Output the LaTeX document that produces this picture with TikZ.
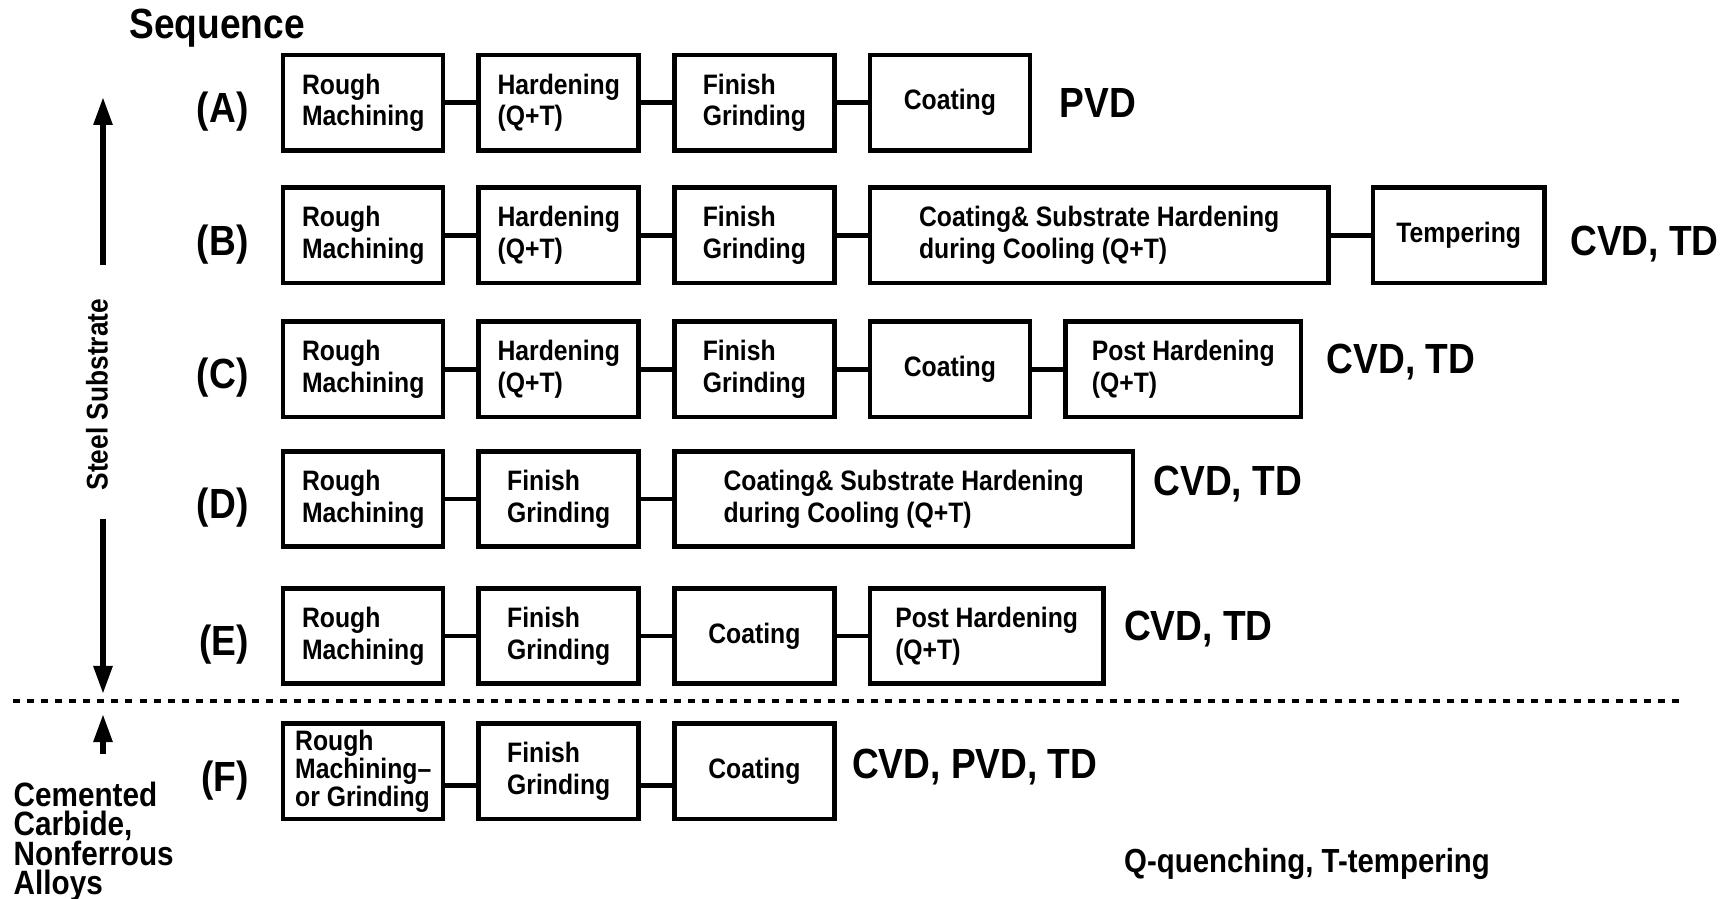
\documentclass[tikz,border=0pt]{standalone}
\usepackage{fontspec}
\setmainfont{Liberation Sans}[FakeStretch=0.88]
\usetikzlibrary{arrows.meta, positioning}
\newcommand\tightlines{\lineskiplimit=-5pt\lineskip=0pt\relax}

\begin{document}
\begin{tikzpicture}[node distance=0.31cm, >={Triangle[length=2.8mm, width=1.8mm]},
    stage/.style={draw, line width=1.3pt, minimum width=1.6cm, minimum height=0.955cm, inner sep=2pt, align=left, font=\fontsize{8}{9}\selectfont\bfseries},
    rowtag/.style={font=\fontsize{12}{14}\selectfont\bfseries, yshift=-0.09cm},
    method/.style={font=\fontsize{12}{14}\selectfont\bfseries},
    link/.style={line width=1.4pt},
    sidearrow/.style={->, line width=1.6pt}]
  \useasboundingbox (0,0) rectangle (17.33,8.98);

  \node[font=\fontsize{12}{14}\selectfont\bfseries] (seq) at (2.17,8.70) {Sequence};

  % (A)
  \node[stage] (a1) at (3.632,7.952) {Rough\\Machining};
  \node[stage, right=of a1] (a2) {Hardening\\(Q+T)};
  \node[stage, right=of a2] (a3) {Finish\\Grinding};
  \node[stage, right=of a3] (a4) {Coating};
  \node[method, right=0.15cm of a4] (am) {PVD};
  \node[rowtag, left=0.2cm of a1] (ta) {(A)};

  % (B)
  \node[stage] (b1) at (3.632,6.626) {Rough\\Machining};
  \node[stage, right=of b1] (b2) {Hardening\\(Q+T)};
  \node[stage, right=of b2] (b3) {Finish\\Grinding};
  \node[stage, right=of b3, minimum width=4.585cm] (b4) {Coating\& Substrate Hardening\\during Cooling (Q+T)};
  \node[stage, right=0.4cm of b4, minimum width=1.715cm] (b5) {Tempering};
  \node[method, right=0.11cm of b5, yshift=-0.09cm] (bm) {CVD, TD};
  \node[rowtag, left=0.2cm of b1] (tb) {(B)};

  % (C)
  \node[stage] (c1) at (3.632,5.289) {Rough\\Machining};
  \node[stage, right=of c1] (c2) {Hardening\\(Q+T)};
  \node[stage, right=of c2] (c3) {Finish\\Grinding};
  \node[stage, right=of c3] (c4) {Coating};
  \node[stage, right=of c4, minimum width=2.355cm] (c5) {Post Hardening\\(Q+T)};
  \node[method, right=0.11cm of c5, yshift=0.07cm] (cm) {CVD, TD};
  \node[rowtag, left=0.2cm of c1] (tc) {(C)};

  % (D)
  \node[stage] (d1) at (3.632,3.99) {Rough\\Machining};
  \node[stage, right=of d1] (d2) {Finish\\Grinding};
  \node[stage, right=of d2, minimum width=4.585cm] (d3) {Coating\& Substrate Hardening\\during Cooling (Q+T)};
  \node[method, right=0.06cm of d3, yshift=0.15cm] (dm) {CVD, TD};
  \node[rowtag, left=0.2cm of d1] (td) {(D)};

  % (E)
  \node[stage] (e1) at (3.632,2.62) {Rough\\Machining};
  \node[stage, right=of e1] (e2) {Finish\\Grinding};
  \node[stage, right=of e2] (e3) {Coating};
  \node[stage, right=of e3, minimum width=2.335cm] (e4) {Post Hardening\\(Q+T)};
  \node[method, right=0.06cm of e4, yshift=0.07cm] (em) {CVD, TD};
  \node[rowtag, left=0.2cm of e1] (te) {(E)};

  % (F)
  \node[stage, inner sep=1pt, font=\fontsize{8}{8}\selectfont\bfseries] (f1) at (3.632,1.266) {Rough\\Machining--\\or Grinding};
  \node[stage, right=of f1] (f2) {Finish\\Grinding};
  \node[stage, right=of f2] (f3) {Coating};
  \node[method, right=0.03cm of f3, yshift=0.04cm] (fm) {CVD, PVD, TD};
  \node[rowtag, left=0.2cm of f1] (tf) {(F)};

  \draw[link] (a1) -- (a2);
  \draw[link] (a2) -- (a3);
  \draw[link] (a3) -- (a4);
  \draw[link] (b1) -- (b2);
  \draw[link] (b2) -- (b3);
  \draw[link] (b3) -- (b4);
  \draw[link] (b4) -- (b5);
  \draw[link] (c1) -- (c2);
  \draw[link] (c2) -- (c3);
  \draw[link] (c3) -- (c4);
  \draw[link] (c4) -- (c5);
  \draw[link] (d1) -- (d2);
  \draw[link] (d2) -- (d3);
  \draw[link] (e1) -- (e2);
  \draw[link] (e2) -- (e3);
  \draw[link] (e3) -- (e4);
  \draw[link] ([yshift=-0.14cm]f1.east) -- ([yshift=-0.14cm]f2.west);
  \draw[link] ([yshift=-0.14cm]f2.east) -- ([yshift=-0.14cm]f3.west);

  % left side
  \node[rotate=90, font=\fontsize{8.5}{10}\selectfont\bfseries] (steel) at (0.97,5.034) {Steel Substrate};
  \coordinate (steeltop) at (1.03,8.01);
  \coordinate (steelup) at (1.03,6.33);
  \coordinate (steeldown) at (1.03,3.79);
  \coordinate (steelbot) at (1.03,2.04);
  \draw[sidearrow] (steelup) -- (steeltop);
  \draw[sidearrow] (steeldown) -- (steelbot);

  \coordinate (divl) at (0.13,1.973);
  \coordinate (divr) at (16.82,1.973);
  \draw[line width=1.2pt, dash pattern=on 2pt off 2pt] (divl) -- (divr);

  \coordinate (carbtop) at (1.03,1.84);
  \coordinate (carbbot) at (1.03,1.44);
  \draw[sidearrow] (carbbot) -- (carbtop);
  \node[anchor=north west, inner sep=0pt, align=left, font=\fontsize{9.6}{8.4}\selectfont\bfseries\tightlines] (carb) at (0.13,1.17) {Cemented\\Carbide,\\Nonferrous\\Alloys};

  \node[font=\fontsize{9.5}{11}\selectfont\bfseries] (note) at (13.07,0.34) {Q-quenching, T-tempering};
\end{tikzpicture}
\end{document}
